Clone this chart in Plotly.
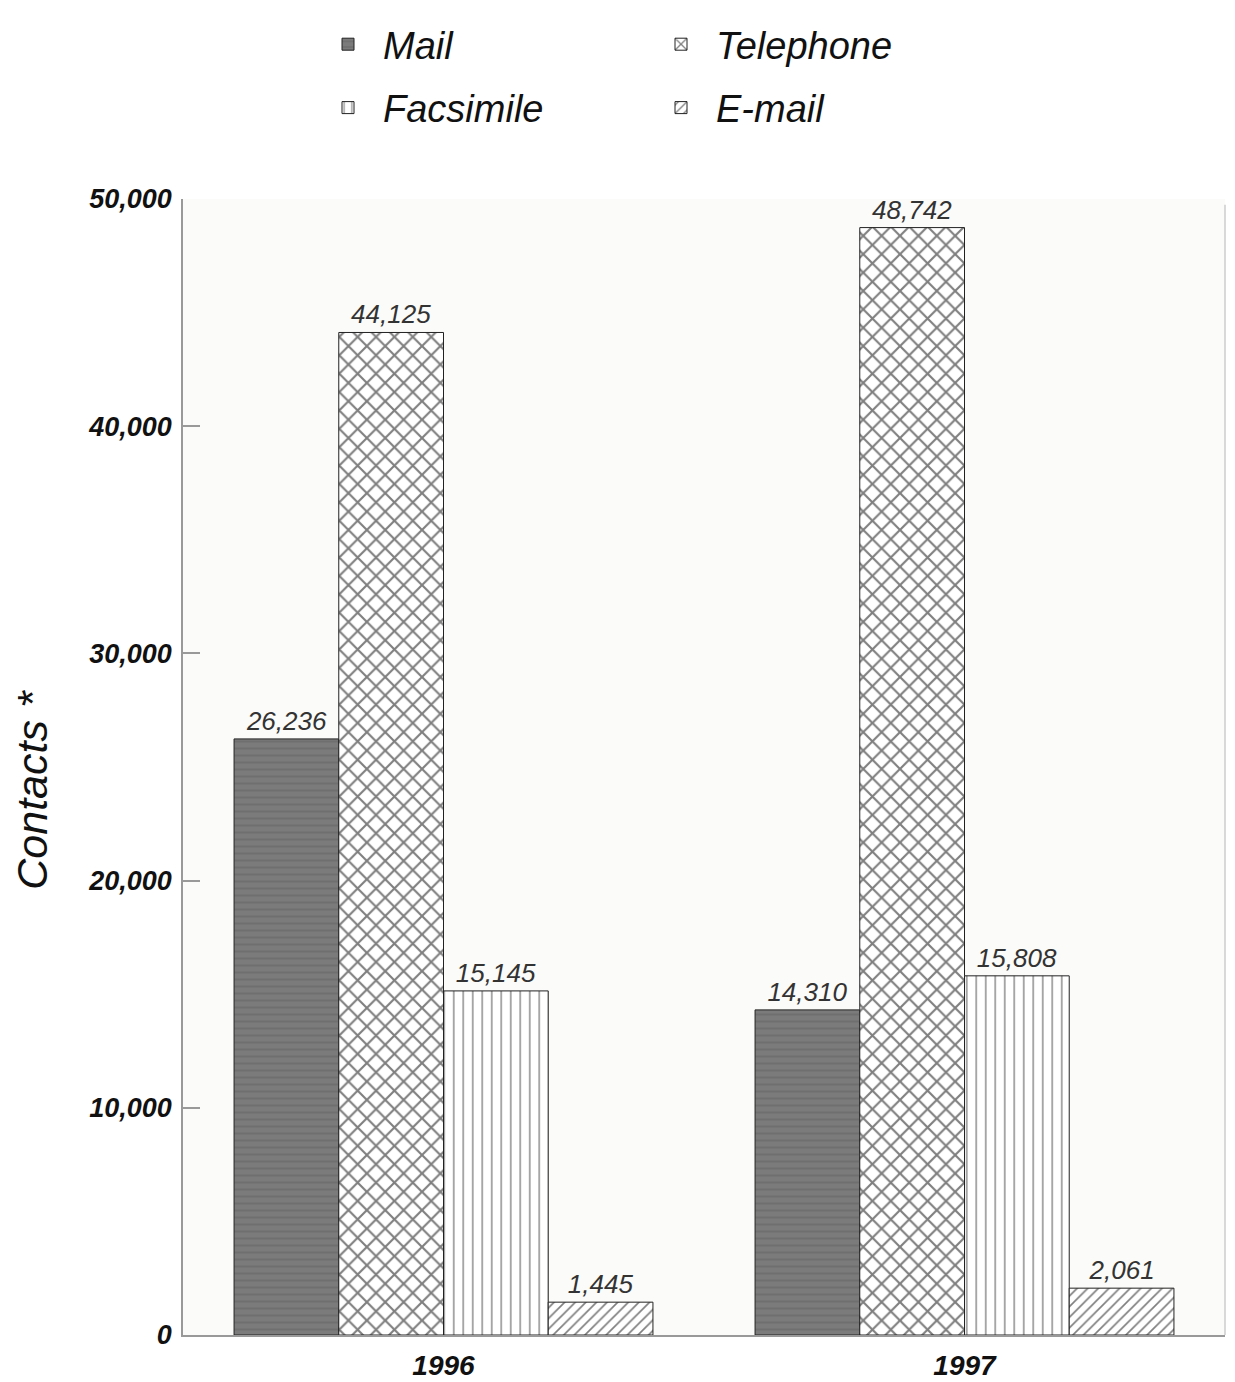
import plotly.graph_objects as go

years = ["1996", "1997"]
series_names = ["Mail", "Telephone", "Facsimile", "E-mail"]
mail = [26236, 14310]
telephone = [44125, 48742]
facsimile = [15145, 15808]
email = [1445, 2061]
y_ticks = [0, 10000, 20000, 30000, 40000, 50000]

values = [mail, telephone, facsimile, email]
styles = {
    "Mail": dict(color="#727272", pattern=dict(shape="-", fgcolor="#636363", bgcolor="#7b7b7b", size=7, solidity=0.3), legend="legend"),
    "Telephone": dict(color="white", pattern=dict(shape="x", fgcolor="#000000", bgcolor="white", size=13, solidity=0.3), legend="legend2"),
    "Facsimile": dict(color="white", pattern=dict(shape="|", fgcolor="#000000", bgcolor="white", size=9.5, solidity=0.14), legend="legend"),
    "E-mail": dict(color="white", pattern=dict(shape="/", fgcolor="#000000", bgcolor="white", size=7.5, solidity=0.22), legend="legend2"),
}

fig = go.Figure()
for name, vals in zip(series_names, values):
    st = styles[name]
    fig.add_trace(go.Bar(
        x=years, y=vals, name=name,
        legend=st["legend"], legendgroup=name,
        marker=dict(color=st["color"], pattern=st["pattern"],
                    line=dict(color="#222222", width=1)),
        texttemplate="%{y:,d}", textposition="outside",
        textfont=dict(family="Liberation Sans", size=26, color="#333333", style="italic"),
        cliponaxis=False,
    ))

W, H = 1235, 1382
legend_common = dict(
    orientation="v", xref="container", yref="container",
    yanchor="top", xanchor="left",
    font=dict(family="Liberation Sans", size=38, color="#111111", style="italic"),
    itemwidth=60, tracegroupgap=11, bgcolor="rgba(0,0,0,0)",
)

fig.update_layout(
    width=W, height=H,
    margin=dict(l=175, r=18, t=191, b=55, autoexpand=False),
    paper_bgcolor="white", plot_bgcolor="#fbfbf9",
    barmode="group", bargap=0.196, bargroupgap=0,
    showlegend=True,
    legend=dict(x=305 / W, y=1 - 5 / H, **legend_common),
    legend2=dict(x=638 / W, y=1 - 5 / H, **legend_common),
    xaxis=dict(
        showline=True, linecolor="#999999", linewidth=1.5,
        ticks="", showgrid=False, automargin=False, ticklabelstandoff=5,
        tickfont=dict(family="Liberation Sans", size=28, color="#111111", weight="bold", style="italic"),
    ),
    yaxis=dict(
        range=[0, 50000], tickvals=y_ticks, tickformat=",d",
        showline=True, linecolor="#999999", linewidth=1.5,
        ticks="inside", ticklen=17, tickcolor="#999999", tickwidth=1.5,
        showgrid=False, zeroline=False, automargin=False,
        ticklabelstandoff=4,
        tickfont=dict(family="Liberation Sans", size=27, color="#111111", weight="bold", style="italic"),
    ),
)

fig.add_annotation(
    text="Contacts *", xref="paper", yref="paper",
    x=(24 - 175) / (W - 175 - 18), y=0.48, textangle=-90,
    showarrow=False, xanchor="center", yanchor="middle",
    font=dict(family="Liberation Sans", size=43, color="#111111", style="italic"),
)

fig.add_shape(type="line", xref="paper", yref="paper", x0=1, x1=1, y0=0, y1=0.995,
              line=dict(color="#cccccc", width=1.5))

fig.write_html("out.html")
